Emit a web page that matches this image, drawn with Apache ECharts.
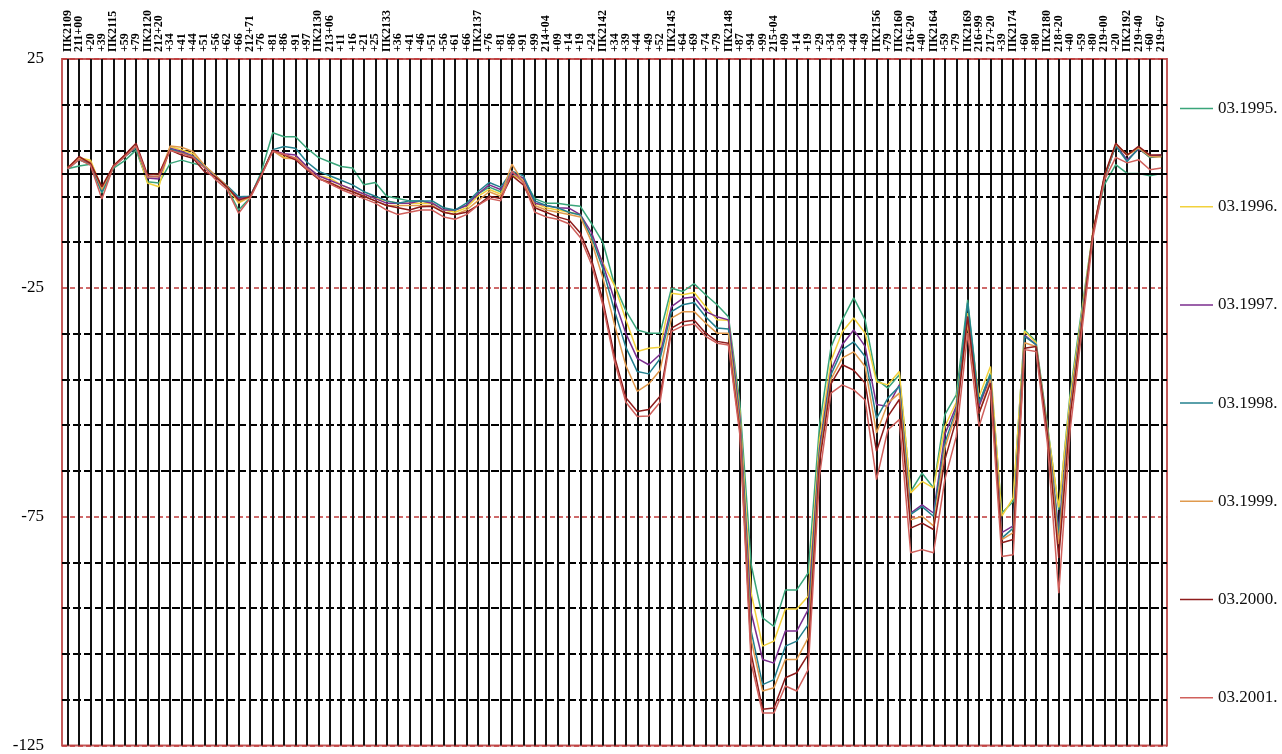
<!DOCTYPE html>
<html>
<head>
<meta charset="utf-8">
<script src="https://cdn.jsdelivr.net/npm/echarts@6/dist/echarts.min.js"></script>
<style>
  html, body { margin: 0; padding: 0; background: #fff; }
  #chart { width: 1282px; height: 754px; }
</style>
</head>
<body>
<div id="chart"></div>
<script>
// Picket stations along the route
const stations = ['ПК2109','211+00','+20','+39','ПК2115','+59','+79','ПК2120','212+20','+34','+41','+44','+51','+56','+62','+66','212+71','+76','+81','+86','+91','+97','ПК2130','213+06','+11','+16','+21','+25','ПК2133','+36','+41','+46','+51','+56','+61','+66','ПК2137','+76','+81','+86','+91','+99','214+04','+09','+14','+19','+24','ПК2142','+34','+39','+44','+49','+52','ПК2145','+64','+69','+74','+79','ПК2148','+87','+94','+99','215+04','+09','+14','+19','+29','+34','+39','+44','+49','ПК2156','+79','ПК2160','216+20','+40','ПК2164','+59','+79','ПК2169','216+99','217+20','+39','ПК2174','+60','+80','ПК2180','218+20','+40','+59','+80','219+00','+20','ПК2192','219+40','+60','219+67'];

// Measured values per survey date
const s1995 = [1.0,1.6,2.0,-4.3,1.1,2.8,5.1,-1.8,-2.1,2.2,2.9,2.2,1.6,-0.6,-3.2,-8.0,-5.4,0.4,8.9,8.0,
  8.0,5.5,3.5,2.5,1.5,1.2,-2.5,-2.0,-5.0,-5.5,-6.0,-6.0,-6.5,-8.0,-8.0,-7.0,-4.5,-3.0,-4.0,-0.5,-1.0,-5.5,-6.5,-6.5,
  -6.9,-7.2,-11.0,-15.2,-24.3,-30.0,-34.2,-34.9,-34.9,-25.1,-25.8,-24.1,-26.5,-28.7,-31.3,
  -50,-85.5,-97.1,-99.0,-91.0,-91.0,-87.3,
  -55,-38,-32,-27.2,-32,-45,-46.9,-44,-69.5,-65.5,-68.7,-52.7,-48.4,
  -27.6,-50.2,-43.6,-74.2,-71.7,-34.2,-36.7,-55,-73.5,-48,-30,-13,-2.5,
  1.9,0.0,0.0,-0.5,0.0];
const s1996 = [1.3,3.4,2.9,-3.2,1.6,3.8,5.8,-2.1,-2.9,5.9,5.1,4.3,1.7,-0.7,-2.9,-6.5,-5.1,-0.3,5.1,3.5,
  3.5,1.5,-0.5,-1.0,-2.5,-3.5,-4.5,-5.5,-6.0,-6.5,-6.5,-6.5,-6.5,-8.0,-8.5,-7.5,-5.0,-3.5,-4.5,-0.5,-1.5,-6.5,-7.5,-8.0,
  -8.5,-9.0,-14.0,-19.6,-24.5,-32.0,-38.9,-38.2,-38.0,-26.2,-26.5,-26.0,-29.1,-32.0,-32.1,
  -52,-91.7,-103.3,-102.2,-95.2,-95.2,-92.4,
  -58,-41,-34.6,-31.6,-34.9,-45.5,-46.2,-43.3,-69.8,-67.3,-68.7,-55.3,-50.0,
  -30.5,-48.8,-42.2,-74.9,-70.9,-34.5,-37.0,-55.5,-73.0,-49,-31,-12.5,-1,
  6.3,4.0,5.5,3.5,3.8];
const s1997 = [1.1,3.2,2.3,-3.3,1.6,3.8,5.8,-1.0,-1.2,5.5,4.8,3.8,1.6,-0.7,-2.8,-5.5,-5.0,-0.3,5.0,4.3,
  4.0,1.5,-0.5,-1.5,-2.5,-3.5,-4.5,-5.5,-6.5,-6.5,-6.5,-6.0,-6.5,-8.0,-8.0,-7.0,-4.5,-2.5,-3.5,0.0,-1.0,-6.5,-7.0,-7.5,
  -7.6,-9.0,-13.0,-20.0,-27.6,-35.0,-40.4,-41.8,-39.5,-29.1,-27.3,-27.0,-30.2,-31.3,-32.0,
  -53,-96,-106.2,-107.0,-100.0,-100.0,-95.3,
  -60,-43,-37.4,-34.2,-37.8,-50.5,-50.9,-46.2,-74.2,-72.4,-74.2,-57.0,-50.9,
  -31.3,-50.9,-44.4,-78.5,-77.0,-35.3,-37.4,-56,-78.0,-51,-32,-13,-1,
  6.2,3.0,5.3,3.8,4.0];
const s1998 = [1.0,3.0,2.0,-4.0,1.5,3.6,5.6,-0.7,-0.7,5.3,4.5,3.7,1.7,-0.6,-2.7,-5.1,-5.0,-0.2,5.2,5.9,
  5.5,2.5,0.5,-0.5,-1.5,-2.5,-4.0,-5.0,-6.0,-6.5,-6.0,-6.0,-6.0,-7.5,-8.0,-6.5,-4.0,-2.0,-3.0,0.5,-0.5,-6.0,-7.0,-7.5,
  -8.5,-9.1,-14.0,-21.0,-30.0,-38.0,-43.3,-43.8,-40.5,-30.2,-28.7,-28.2,-31.3,-33.8,-34.0,
  -54,-100,-111.7,-110.6,-103.3,-102.2,-98.6,
  -61,-44,-38.5,-36.8,-40,-53.5,-49.1,-46.5,-74.5,-72.8,-74.9,-58.9,-51.5,
  -28.3,-50.2,-44.0,-79.7,-77.5,-35.6,-37.4,-56,-79.0,-51.5,-32.5,-13,-1,
  6.0,2.6,5.5,3.5,3.8];
const s1999 = [1.2,3.3,2.5,-3.5,1.6,3.9,6.0,-0.8,-0.5,6.0,5.7,4.8,1.8,-0.5,-2.8,-6.2,-5.2,-0.4,5.0,3.3,
  3.2,1.0,-1.0,-2.0,-3.0,-4.0,-5.0,-6.0,-7.0,-7.0,-7.0,-7.0,-7.0,-8.5,-9.0,-8.0,-6.0,-4.0,-5.0,2.0,-2.0,-7.0,-8.0,-8.5,
  -9.0,-9.5,-15.0,-23.0,-33.0,-42.0,-47.6,-46.0,-43.0,-31.6,-30.2,-30.2,-32.7,-34.9,-34.9,
  -55,-102,-113.1,-112.4,-106.2,-106.2,-101.5,
  -62,-45,-40.3,-39,-42.2,-56.7,-50.2,-48,-75.7,-74.9,-77.0,-60.0,-52.3,
  -32.7,-52.4,-45.1,-80.0,-78.5,-37.0,-37.8,-56.5,-81.0,-52,-33,-13,-0.8,
  6.4,4.0,5.6,3.7,3.6];
const s2000 = [1.2,3.7,2.2,-2.9,1.6,4.0,6.6,-0.3,-0.1,5.1,4.0,3.3,0.4,-0.8,-3.0,-5.8,-5.1,-0.3,5.1,4.0,
  3.0,0.8,-1.2,-2.0,-3.2,-4.0,-5.0,-6.0,-7.0,-7.5,-8.0,-7.3,-7.2,-8.5,-9.0,-8.5,-7.0,-5.0,-5.5,-0.5,-2.5,-7.5,-8.5,-9.5,
  -10.2,-13.0,-19.0,-28.0,-40.0,-49.0,-52.0,-51.6,-48.7,-33.8,-32.4,-32.1,-34.9,-36.7,-37.1,
  -56,-105,-117.1,-116.8,-110.2,-109.1,-105.1,
  -63,-46,-41.8,-43,-45.8,-60.7,-53.1,-49.4,-77.5,-76.4,-77.8,-62.6,-53.8,
  -31.3,-52.4,-45.8,-80.7,-80.0,-38.2,-37.8,-57,-84.0,-53,-33.5,-13,-0.5,
  6.6,4.0,5.9,4.0,4.0];
const s2001 = [1.0,3.0,1.8,-5.6,1.4,3.6,6.0,-0.6,-0.8,5.0,4.4,3.6,1.2,-1.4,-3.5,-8.7,-5.5,-0.5,4.8,4.2,
  3.3,1.0,-1.0,-2.3,-3.5,-4.5,-5.5,-6.5,-8.0,-9.0,-8.5,-8.0,-8.0,-9.5,-10.0,-9.0,-7.0,-5.5,-6.0,0.5,-2.0,-8.5,-9.5,-10.0,
  -11.0,-14.0,-20.0,-29.0,-41.0,-50.0,-53.1,-53.0,-50.0,-34.5,-33.3,-32.9,-35.6,-37.1,-37.5,
  -57,-107,-117.9,-117.9,-112.0,-113.1,-108.4,
  -66,-48,-46.2,-47.3,-49.5,-66.9,-56.0,-53.8,-82.9,-82.2,-82.9,-66.9,-57.5,
  -34.9,-55.3,-47.3,-83.7,-83.3,-38.5,-38.9,-59,-91.7,-56,-35,-14,-1.5,
  3.5,2.3,3.0,0.8,1.2];

const surveyNames = ['03.1995.', '03.1996.', '03.1997.', '03.1998.', '03.1999.', '03.2000.', '03.2001.'];
const surveyData = [s1995, s1996, s1997, s1998, s1999, s2000, s2001];
const surveyColors = ['#3aa57a', '#f2d13c', '#7b2d8e', '#23808e', '#e09a4e', '#8e1c1c', '#d0605c'];

const serif = 'Liberation Serif, Times New Roman, serif';
const chart = echarts.init(document.getElementById('chart'));

const series = surveyNames.map((name, k) => ({
  name,
  type: 'line',
  data: surveyData[k],
  symbol: 'none',
  smooth: false,
  lineStyle: { color: surveyColors[k], width: 1.5 },
  itemStyle: { color: surveyColors[k] },
  z: 3 + k
}));

// solid zero reference line
series[0].markLine = {
  silent: true,
  symbol: 'none',
  label: { show: false },
  lineStyle: { color: '#000', type: 'solid', width: 2 },
  data: [{ yAxis: 0 }],
  animation: false
};

chart.setOption({
  animation: false,
  backgroundColor: '#fff',
  grid: {
    left: 62, right: 115, top: 59, bottom: 8,
    show: true, borderColor: '#c45a5a', borderWidth: 2
  },
  legend: {
    orient: 'vertical',
    left: 1180, top: 100,
    icon: 'rect',
    itemWidth: 33, itemHeight: 1.5, itemGap: 81.2,
    padding: 0,
    textStyle: { fontFamily: serif, fontSize: 17, color: '#111' },
    data: surveyNames
  },
  xAxis: {
    type: 'category',
    position: 'top',
    data: stations,
    boundaryGap: true,
    axisLine: { show: false },
    axisTick: { show: false },
    axisLabel: {
      interval: 0, rotate: 90, margin: 7,
      fontFamily: serif, fontSize: 12, fontWeight: 'bold', color: '#000'
    },
    splitLine: {
      show: true, interval: 0, alignWithLabel: true,
      lineStyle: { color: '#111', width: 2 }
    }
  },
  yAxis: [
    {
      type: 'value', min: -125, max: 25, interval: 10,
      axisLine: { show: false }, axisTick: { show: false },
      axisLabel: { show: false },
      splitLine: {
        show: true,
        lineStyle: {
          color: ['rgba(0,0,0,0)', '#000', '#000', '#000', '#000'],
          width: 2, type: [8, 3]
        }
      }
    },
    {
      type: 'value', min: -125, max: 25, interval: 50, position: 'left',
      axisLine: { show: false }, axisTick: { show: false },
      axisLabel: { fontFamily: serif, fontSize: 17, color: '#000', margin: 18 },
      splitLine: {
        show: true,
        lineStyle: { color: '#c03a3a', width: 1.5, type: [5, 3] }
      }
    }
  ],
  series
});
</script>
</body>
</html>
